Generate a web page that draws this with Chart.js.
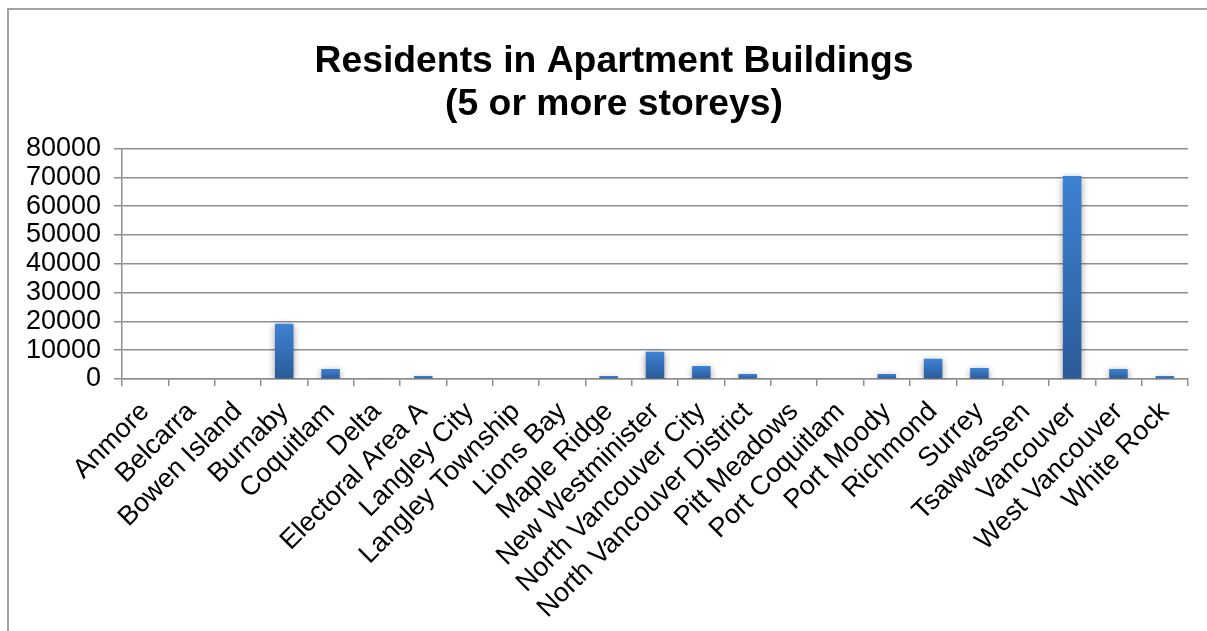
<!DOCTYPE html>
<html>
<head>
<meta charset="utf-8">
<script src="https://cdn.jsdelivr.net/npm/chart.js@4/dist/chart.umd.min.js"></script>
<style>
    html, body { margin: 0; padding: 0; background: #fff; overflow: hidden; }
    #wrap { position: relative; width: 1207px; height: 631px; overflow: hidden; }
    #frame {
        position: absolute; left: 7px; top: 8px; width: 1400px; height: 800px;
        border: 2px solid #a3a3a3; box-sizing: border-box;
    }
    #chart { position: absolute; left: 0; top: 0; }
</style>
</head>
<body>
<div id="wrap">
    <div id="frame"></div>
    <canvas id="chart" width="1228" height="631"></canvas>
</div>
<script>
// Date
var TITLE_LINES = ['Residents in Apartment Buildings', '(5 or more storeys)'];
var MUNICIPALITIES = [
    'Anmore', 'Belcarra', 'Bowen Island', 'Burnaby', 'Coquitlam', 'Delta',
    'Electoral Area A', 'Langley City', 'Langley Township', 'Lions Bay',
    'Maple Ridge', 'New Westminister', 'North Vancouver City',
    'North Vancouver District', 'Pitt Meadows', 'Port Coquitlam', 'Port Moody',
    'Richmond', 'Surrey', 'Tsawwassen', 'Vancouver', 'West Vancouver', 'White Rock'
];
var RESIDENTS = [
    0, 0, 0, 19200, 3500, 350,
    1050, 0, 0, 0,
    1050, 9500, 4500,
    1750, 0, 0, 1750,
    7000, 3850, 0, 70500, 3500, 1050
];
var Y_TICKS = [0, 10000, 20000, 30000, 40000, 50000, 60000, 70000, 80000];

var GRID = '#8f8f8f';
var FONT = "'Liberation Sans', Arial, sans-serif";

// Gradient pe fiecare bara, de la albastru deschis sus la inchis jos
function barFill(ctx) {
    var chart = ctx.chart;
    if (ctx.type !== 'data' || !chart.chartArea) return '#3370bb';
    var y = chart.scales.y;
    var top = y.getPixelForValue(ctx.raw);
    var base = y.getPixelForValue(0);
    if (base - top < 1) return '#2f65a8';
    var g = chart.ctx.createLinearGradient(0, top, 0, base);
    g.addColorStop(0, '#3d82d4');
    g.addColorStop(1, '#2b5b97');
    return g;
}

// Umbra discreta sub bare
var barShadow = {
    id: 'barShadow',
    beforeDatasetDraw: function (chart) {
        var c = chart.ctx;
        c.save();
        c.shadowColor = 'rgba(0,0,0,0.4)';
        c.shadowBlur = 7;
        c.shadowOffsetX = 0;
        c.shadowOffsetY = 2;
    },
    afterDatasetDraw: function (chart) {
        chart.ctx.restore();
    }
};

new Chart(document.getElementById('chart'), {
    type: 'bar',
    data: {
        labels: MUNICIPALITIES,
        datasets: [{
            data: RESIDENTS,
            backgroundColor: barFill,
            borderWidth: 0,
            barPercentage: 0.4,
            categoryPercentage: 1
        }]
    },
    plugins: [barShadow],
    options: {
        responsive: false,
        animation: false,
        layout: { padding: { left: 0, right: 0, top: 0, bottom: 0 } },
        plugins: {
            legend: { display: false },
            tooltip: { enabled: false },
            title: {
                display: true,
                text: TITLE_LINES,
                color: '#000',
                font: { family: FONT, size: 37.3, weight: 'bold', lineHeight: 1.16 },
                padding: { top: 40, bottom: 22 }
            }
        },
        scales: {
            x: {
                grid: {
                    offset: true,
                    drawOnChartArea: false,
                    drawTicks: true,
                    tickLength: 7,
                    color: GRID,
                    lineWidth: 1.5
                },
                border: { display: true, color: GRID, width: 1.5 },
                ticks: {
                    autoSkip: false,
                    maxRotation: 45,
                    minRotation: 45,
                    padding: 10,
                    color: '#000',
                    font: { family: FONT, size: 27 }
                },
                afterFit: function (scale) { scale.height = 252; }
            },
            y: {
                min: 0,
                max: 80000,
                afterBuildTicks: function (scale) {
                    scale.ticks = Y_TICKS.map(function (v) { return { value: v }; });
                },
                grid: {
                    drawTicks: true,
                    tickLength: 8,
                    color: GRID,
                    lineWidth: 1.5
                },
                border: { display: true, color: GRID, width: 1.5 },
                ticks: {
                    autoSkip: false,
                    padding: 13,
                    color: '#000',
                    font: { family: FONT, size: 27 },
                    callback: function (v) { return String(v); }
                },
                afterFit: function (scale) { scale.width = 122; }
            },
            // axa goala in dreapta: tine zona graficului la x=1188, titlul ramane centrat pe cadru
            spacer: {
                position: 'right',
                min: 0,
                max: 1,
                grid: { display: false },
                border: { display: false },
                ticks: { display: false },
                afterFit: function (scale) { scale.width = 40; }
            }
        }
    }
});
</script>
</body>
</html>
